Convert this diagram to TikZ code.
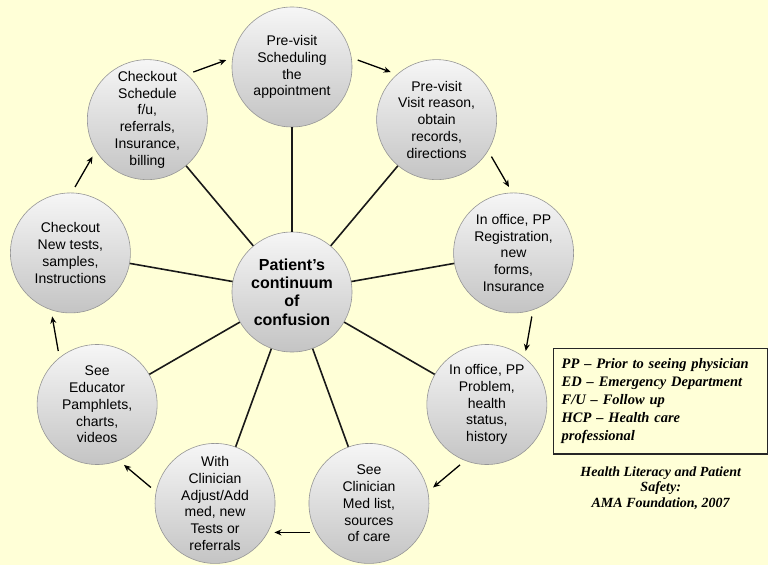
\documentclass[tikz,border=0pt]{standalone}
\usepackage{fontspec}
\setmainfont{Liberation Sans}
\newfontfamily\notefont{Liberation Serif}
\usetikzlibrary{arrows.meta, positioning, calc}
\definecolor{paper}{RGB}{255,255,215}
\definecolor{bubtop}{RGB}{246,246,246}
\definecolor{bubbot}{RGB}{196,196,196}
\definecolor{bubline}{RGB}{150,150,150}

\begin{document}
\begin{tikzpicture}[
  x=1pt, y=1pt,
  font=\fontsize{14}{16.8}\selectfont,
  bub/.style={circle, minimum size=120pt, inner sep=0pt, align=center,
              top color=bubtop, bottom color=bubbot, draw=bubline, line width=0.6pt},
  core/.style={bub, font=\fontsize{16}{18.3}\selectfont\bfseries},
  spoke/.style={line width=1.6pt, draw=black!90},
  flow/.style={-{Stealth[length=7pt, width=6pt]}, line width=1.3pt},
  keybox/.style={draw=black!85, line width=1.4pt, fill=paper, align=left,
                 text width=198pt, inner xsep=8pt, inner ysep=10pt,
                 font=\notefont\bfseries\itshape\fontsize{14.5}{18}\selectfont},
  cite/.style={align=center, inner sep=1pt,
               font=\notefont\bfseries\itshape\fontsize{14}{15.5}\selectfont},
]
\useasboundingbox[fill=paper] (-292,-273) rectangle (476,292);

% hub and the nine stages, clockwise from the top
\node[core] (pc) at (0,0) {Patient's\\continuum\\of\\confusion};
\node[bub] (sched) at (90:225) {Pre-visit\\Scheduling\\the\\appointment};
\node[bub] (reason) at (50:225) {Pre-visit\\Visit reason,\\obtain\\records,\\directions};
\node[bub] (regist) at (10:225) {In office, PP\\Registration,\\new\\forms,\\Insurance};
\node[bub] (problem) at (-30:225) {In office, PP\\Problem,\\health\\status,\\history};
\node[bub] (medlist) at (-70:225) {See\\Clinician\\Med list,\\sources\\of care};
\node[bub] (adjust) at (-110:225) {With\\Clinician\\Adjust/Add\\med, new\\Tests or\\referrals};
\node[bub] (educ) at (-150:225) {See\\Educator\\Pamphlets,\\charts,\\videos};
\node[bub] (tests) at (170:225) {Checkout\\New tests,\\samples,\\Instructions};
\node[bub] (fu) at (130:225) {Checkout\\Schedule\\f/u,\\referrals,\\Insurance,\\billing};

\foreach \n in {sched, reason, regist, problem, medlist, adjust, educ, tests, fu}
  \draw[spoke] (pc) -- (\n);

% short arrows just outside the ring
\foreach \a/\b in {sched/reason, reason/regist, regist/problem, problem/medlist,
                   medlist/adjust, adjust/educ, educ/tests, tests/fu, fu/sched}
  \draw[flow] ($(\a)!.386!(\b)!29pt!90:(\b)$) -- ($(\a)!.614!(\b)!29pt!90:(\b)$);

% abbreviations and source
\node[keybox, anchor=north west] (abbr) at (261,-56)
  {PP – Prior to seeing physician\\ED – Emergency Department\\F/U – Follow up\\HCP – Health care\\professional};
\node[cite, below=11pt of abbr] (src) {Health Literacy and Patient\\Safety:\\AMA Foundation, 2007};
\end{tikzpicture}
\end{document}
